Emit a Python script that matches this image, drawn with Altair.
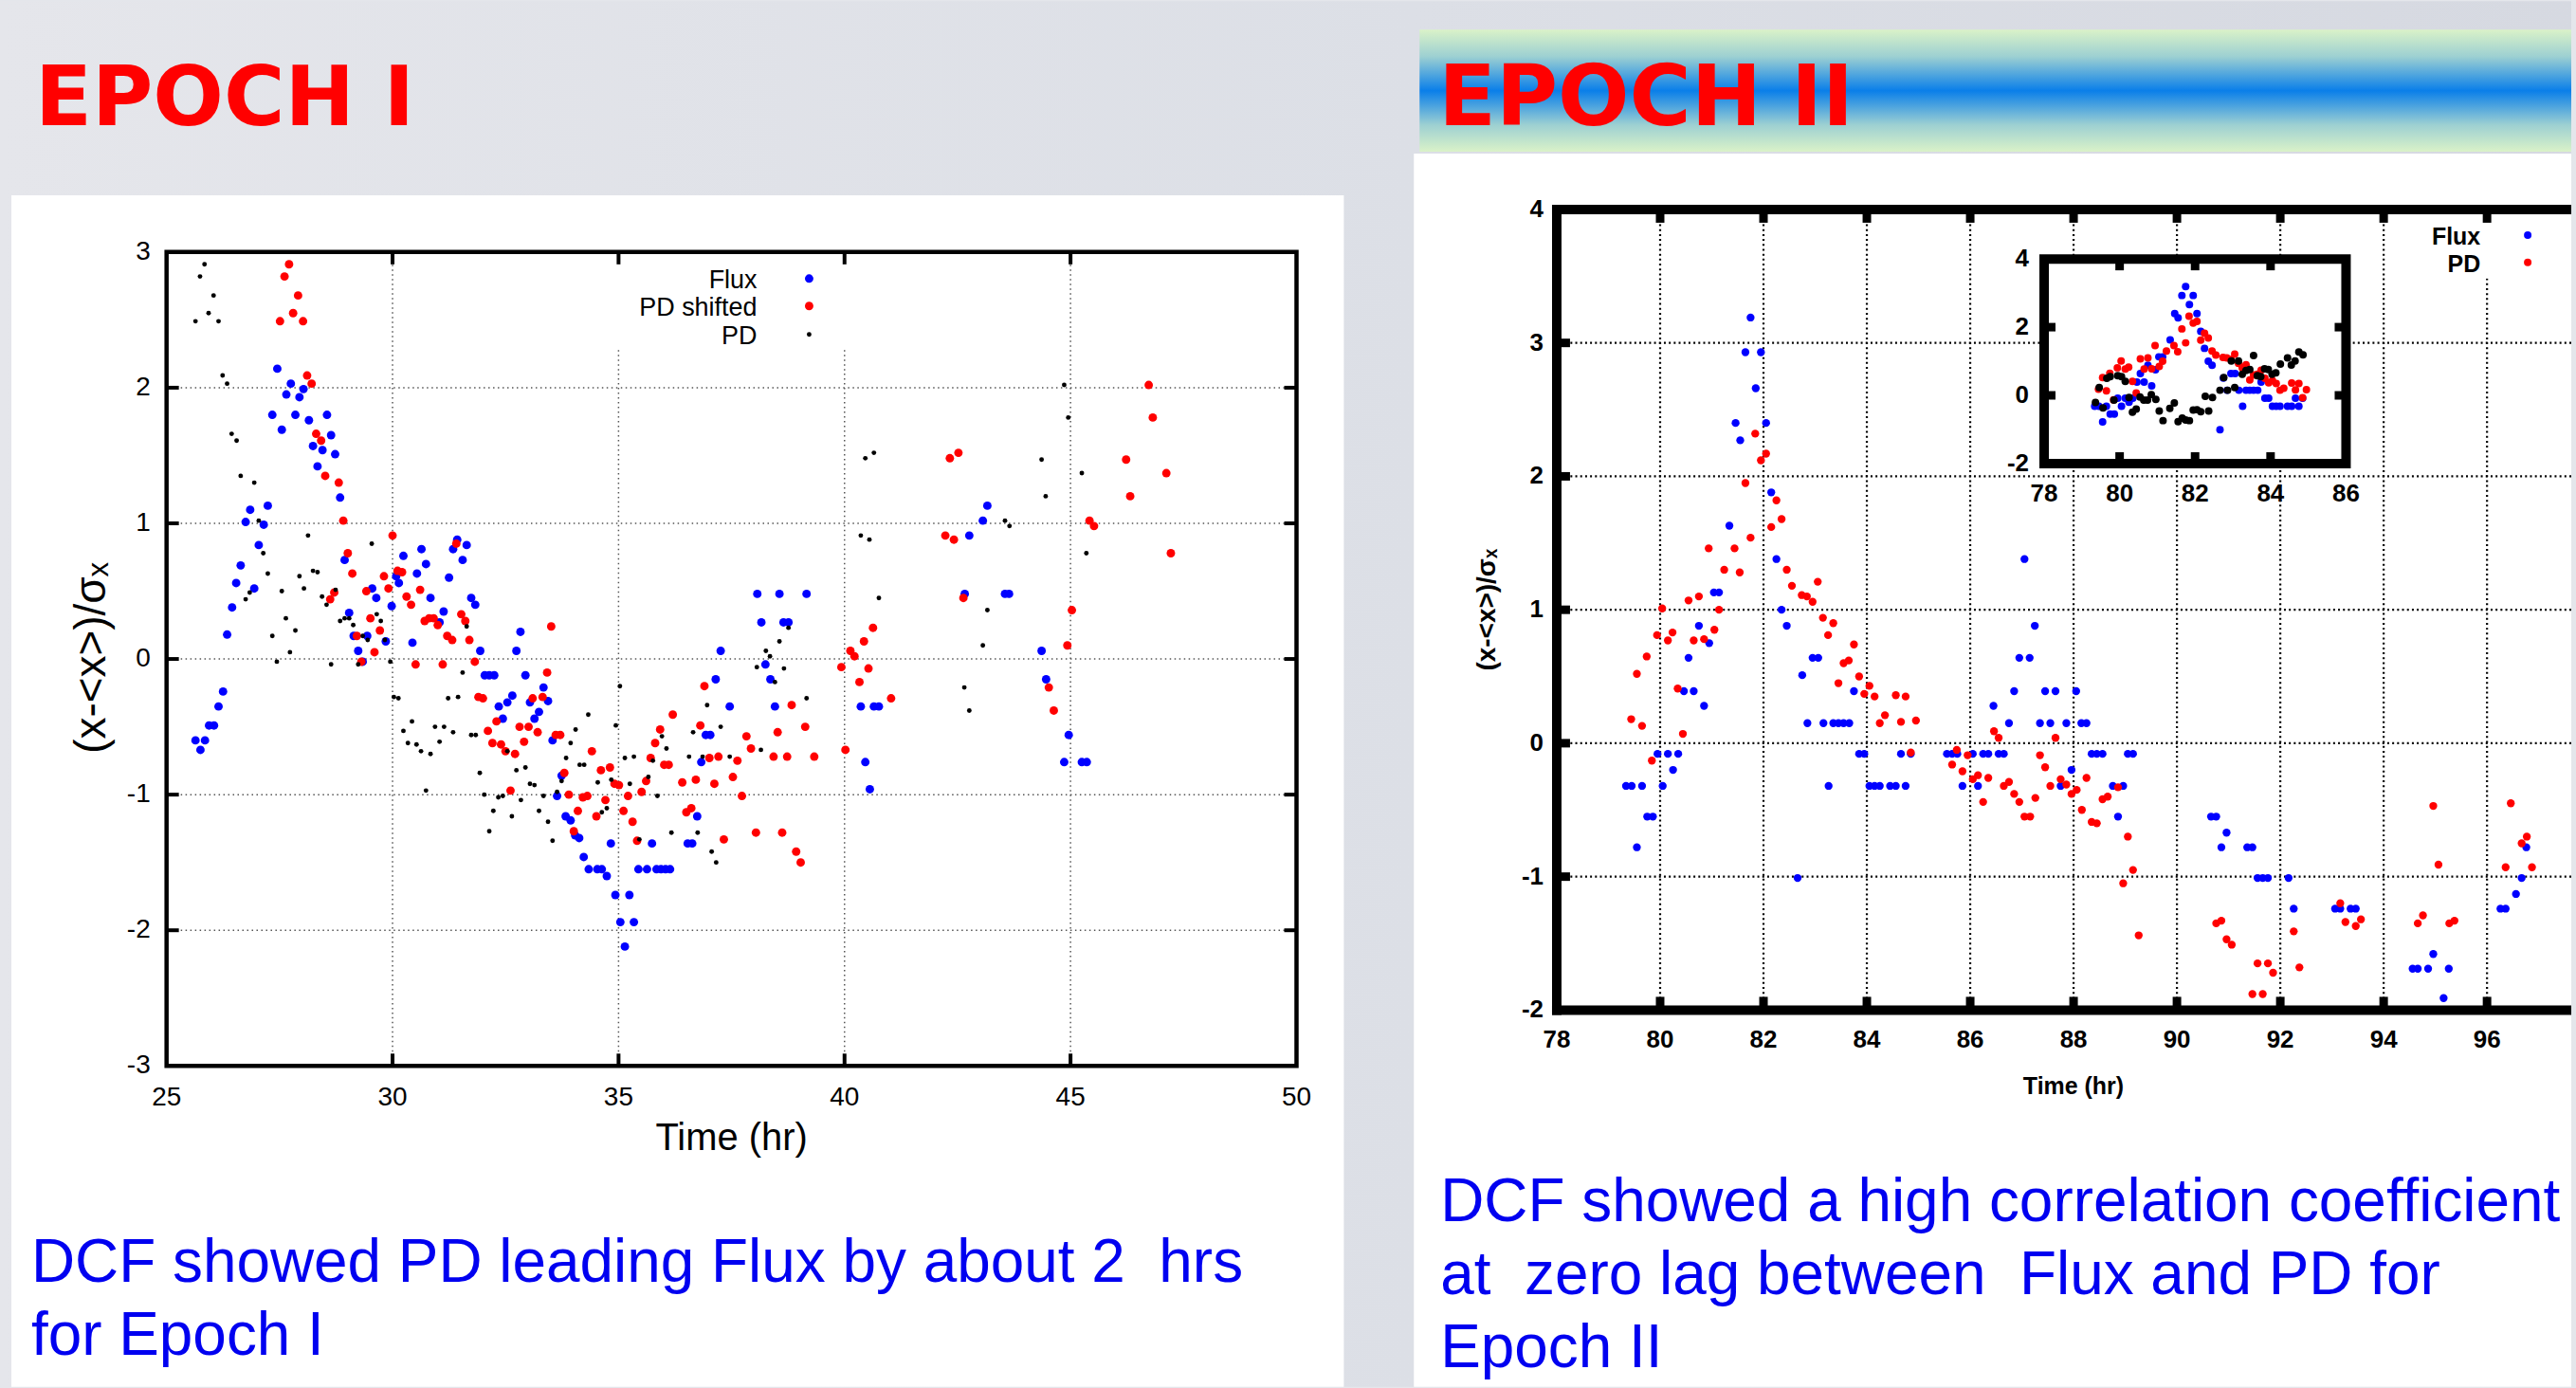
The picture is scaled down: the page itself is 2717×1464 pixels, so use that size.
import altair as alt
import pandas as pd

# ------------------------------------------------------------------
# Epoch I : normalised light curves, (x-<x>)/sigma_x against time (hr)
# ------------------------------------------------------------------
e1_flux_t = [25.64, 25.75, 25.85, 25.94, 26.05, 26.15, 26.25, 26.34, 26.45, 26.54,
             26.64, 26.75, 26.85, 26.94, 27.04, 27.15, 27.24, 27.34, 27.45, 27.55,
             27.65, 27.75, 27.85, 27.94, 28.03, 28.15, 28.24, 28.34, 28.45, 28.55,
             28.64, 28.73, 28.84, 28.94, 29.04, 29.14, 29.24, 29.34, 29.44, 29.55,
             29.64, 29.85, 29.98, 30.08, 30.14, 30.24, 30.44, 30.54, 30.64, 30.74,
             30.84, 31.04, 31.13, 31.25, 31.34, 31.43, 31.55, 31.64, 31.74, 31.83,
             31.94, 32.04, 32.14, 32.25, 32.35, 32.44, 32.54, 32.65, 32.74, 32.83,
             32.94, 33.04, 33.14, 33.24, 33.34, 33.44, 33.54, 33.64, 33.74, 33.83,
             33.94, 34.04, 34.13, 34.23, 34.34, 34.53, 34.63, 34.74, 34.83, 34.93,
             35.04, 35.14, 35.24, 35.34, 35.44, 35.63, 35.74, 35.84, 35.94, 36.04,
             36.14, 36.53, 36.63, 36.74, 36.83, 36.93, 37.03, 37.15, 37.26, 37.46,
             38.07, 38.16, 38.25, 38.36, 38.46, 38.56, 38.65, 38.76, 39.16, 40.36,
             40.46, 40.56, 40.65, 40.76, 42.66, 42.76, 43.06, 43.16, 43.55, 43.64,
             44.36, 44.46, 44.86, 44.96, 45.25, 45.36]
e1_flux_v = [-0.60, -0.67, -0.60, -0.49, -0.49, -0.35, -0.24, 0.18, 0.38, 0.56,
             0.69, 1.01, 1.10, 0.52, 0.84, 0.99, 1.13, 1.80, 2.14, 1.69,
             1.95, 2.03, 1.80, 1.93, 1.99, 1.76, 1.57, 1.42, 1.54, 1.80,
             1.65, 1.51, 1.19, 0.73, 0.34, 0.17, 0.06, -0.02, 0.17, 0.52,
             0.45, 0.13, 0.39, 0.61, 0.56, 0.76, 0.12, 0.63, 0.81, 0.70,
             0.45, 0.27, 0.35, 0.60, 0.81, 0.88, 0.73, 0.84, 0.45, 0.40,
             0.06, -0.12, -0.12, -0.12, -0.35, -0.44, -0.32, -0.27, 0.06, 0.20,
             -0.12, -0.32, -0.44, -0.39, -0.21, -0.31, -0.60, -1.01, -0.86, -1.16,
             -1.19, -1.30, -1.32, -1.46, -1.55, -1.55, -1.55, -1.60, -1.36, -1.74,
             -1.94, -2.12, -1.74, -1.94, -1.55, -1.55, -1.36, -1.55, -1.55, -1.55,
             -1.55, -1.36, -1.36, -1.16, -0.76, -0.56, -0.56, -0.15, 0.06, -0.35,
             0.48, 0.27, -0.04, -0.15, -0.35, 0.48, 0.27, 0.27, 0.48, -0.35,
             -0.76, -0.96, -0.35, -0.35, 0.48, 0.91, 1.02, 1.13, 0.48, 0.48,
             0.06, -0.15, -0.76, -0.56, -0.76, -0.76]

e1_pd_t = [25.64, 25.74, 25.84, 25.93, 26.04, 26.15, 26.24, 26.34, 26.44, 26.55,
           26.64, 26.75, 26.84, 26.94, 27.04, 27.14, 27.24, 27.34, 27.44, 27.55,
           27.64, 27.73, 27.85, 27.94, 28.04, 28.13, 28.24, 28.34, 28.44, 28.54,
           28.64, 28.74, 28.84, 28.94, 29.04, 29.13, 29.24, 29.34, 29.45, 29.54,
           29.65, 29.74, 29.83, 29.95, 30.03, 30.13, 30.24, 30.34, 30.43, 30.53,
           30.63, 30.74, 30.84, 30.94, 31.04, 31.14, 31.23, 31.34, 31.45, 31.55,
           31.64, 31.74, 31.84, 31.93, 32.03, 32.14, 32.23, 32.34, 32.44, 32.54,
           32.64, 32.74, 32.84, 32.94, 33.04, 33.14, 33.24, 33.34, 33.44, 33.54,
           33.64, 33.74, 33.84, 33.94, 34.05, 34.14, 34.24, 34.33, 34.54, 34.63,
           34.74, 34.84, 34.94, 35.03, 35.14, 35.25, 35.34, 35.46, 35.66, 35.76,
           35.86, 35.96, 36.06, 36.17, 36.56, 36.65, 36.75, 36.86, 36.96, 37.06,
           37.16, 37.26, 37.46, 38.06, 38.15, 38.26, 38.35, 38.46, 38.56, 38.66,
           38.76, 39.16, 40.36, 40.46, 40.55, 40.65, 40.76, 42.65, 42.76, 43.06,
           43.16, 43.55, 43.65, 44.36, 44.45, 44.86, 44.95, 45.25, 45.35]
e1_pd_v = [2.49, 2.82, 2.91, 2.55, 2.68, 2.49, 2.09, 2.03, 1.66, 1.61,
           1.35, 0.44, 0.49, 1.30, 1.02, 0.78, 0.63, 0.17, -0.02, 0.50,
           0.30, 0.05, 0.21, 0.61, 0.52, 0.91, 0.65, 0.64, 0.46, 0.40,
           -0.04, 0.51, 0.28, 0.30, 0.30, 0.25, -0.04, 0.17, 0.14, 0.85,
           0.33, 0.28, 0.14, -0.02, -0.28, -0.29, -0.53, -0.62, -0.46, -0.63,
           -0.68, -0.97, -0.70, -0.50, -0.61, -0.50, -0.29, -0.54, -0.28, -0.10,
           0.24, -0.56, -0.56, -0.84, -1.00, -1.27, -1.12, -1.02, -1.01, -0.68,
           -1.16, -0.82, -1.04, -0.80, -0.92, -0.93, -1.12, -1.01, -1.20, -1.34,
           -0.98, -0.90, -0.73, -0.62, -0.52, -0.78, -0.78, -0.41, -0.91, -1.13,
           -1.10, -0.89, -0.49, -0.20, -0.73, -0.92, -0.72, -1.33, -0.87, -0.75,
           -1.01, -0.57, -0.66, -1.28, -0.72, -0.54, -1.28, -0.72, -0.34, -1.42,
           -1.50, -0.50, -0.72, -0.06, -0.67, 0.06, 0.02, -0.17, 0.13, -0.07,
           0.23, -0.29, 0.91, 1.48, 0.88, 1.52, 0.45, -0.21, -0.38, 0.10,
           0.36, 1.02, 0.98, 1.47, 1.20, 2.02, 1.78, 1.37, 0.78]

# PD is drawn a second time, displaced by the lag found with the DCF
e1_pd_lag_hr = 1.87

# ------------------------------------------------------------------
# Epoch II
# ------------------------------------------------------------------
e2_flux_t = [79.34, 79.45, 79.55, 79.65, 79.75, 79.86, 79.95, 80.05, 80.15, 80.25,
             80.35, 80.46, 80.55, 80.65, 80.75, 80.85, 80.95, 81.04, 81.14, 81.34,
             81.46, 81.55, 81.65, 81.75, 81.85, 81.95, 82.05, 82.15, 82.25, 82.35,
             82.45, 82.66, 82.75, 82.85, 82.95, 83.06, 83.16, 83.26, 83.35, 83.45,
             83.55, 83.66, 83.75, 83.85, 83.95, 84.05, 84.15, 84.25, 84.45, 84.56,
             84.66, 84.75, 84.85, 85.55, 85.65, 85.75, 85.85, 86.05, 86.15, 86.25,
             86.35, 86.45, 86.55, 86.65, 86.75, 86.85, 86.95, 87.05, 87.15, 87.25,
             87.35, 87.45, 87.55, 87.65, 87.75, 87.86, 87.96, 88.05, 88.15, 88.25,
             88.35, 88.45, 88.56, 88.76, 88.86, 88.96, 89.05, 89.15, 90.66, 90.76,
             90.86, 90.96, 91.36, 91.46, 91.56, 91.66, 91.76, 92.16, 92.26, 93.06,
             93.16, 93.36, 93.46, 94.56, 94.66, 94.86, 94.96, 95.16, 95.26, 96.26,
             96.36, 96.56, 96.67, 96.76]
e2_flux_v = [-0.32, -0.32, -0.78, -0.32, -0.55, -0.55, -0.08, -0.32, -0.08, -0.20,
             -0.08, 0.39, 0.64, 0.39, 0.88, 0.28, 0.75, 1.13, 1.13, 1.63,
             2.40, 2.27, 2.93, 3.19, 2.66, 2.93, 2.40, 1.88, 1.38, 1.00,
             0.88, -1.01, 0.51, 0.15, 0.64, 0.64, 0.15, -0.32, 0.15, 0.15,
             0.15, 0.15, 0.39, -0.08, -0.08, -0.32, -0.32, -0.32, -0.32, -0.32,
             -0.08, -0.32, -0.08, -0.08, -0.08, -0.08, -0.32, -0.08, -0.32, -0.08,
             -0.08, 0.28, -0.08, -0.08, 0.15, 0.39, 0.64, 1.38, 0.64, 0.88,
             0.15, 0.39, 0.15, 0.39, -0.32, 0.15, -0.20, 0.39, 0.15, 0.15,
             -0.08, -0.08, -0.08, -0.32, -0.55, -0.32, -0.08, -0.08, -0.55, -0.55,
             -0.78, -0.67, -0.78, -0.78, -1.01, -1.01, -1.01, -1.01, -1.24, -1.24,
             -1.24, -1.24, -1.24, -1.69, -1.69, -1.69, -1.58, -1.91, -1.69, -1.24,
             -1.24, -1.13, -1.01, -0.78]

e2_pd_t = [79.44, 79.55, 79.65, 79.74, 79.84, 79.94, 80.04, 80.15, 80.24, 80.34,
           80.44, 80.55, 80.65, 80.75, 80.85, 80.94, 81.05, 81.14, 81.24, 81.44,
           81.54, 81.65, 81.75, 81.84, 81.95, 82.05, 82.15, 82.25, 82.35, 82.45,
           82.55, 82.74, 82.84, 82.95, 83.05, 83.15, 83.25, 83.35, 83.45, 83.55,
           83.65, 83.75, 83.85, 83.95, 84.05, 84.15, 84.25, 84.35, 84.56, 84.66,
           84.75, 84.85, 84.95, 85.65, 85.74, 85.85, 85.95, 86.05, 86.15, 86.25,
           86.35, 86.46, 86.55, 86.65, 86.75, 86.85, 86.95, 87.05, 87.16, 87.26,
           87.35, 87.45, 87.55, 87.65, 87.75, 87.86, 87.96, 88.06, 88.16, 88.25,
           88.35, 88.45, 88.56, 88.66, 88.86, 88.96, 89.05, 89.15, 89.26, 90.76,
           90.86, 90.96, 91.06, 91.46, 91.56, 91.66, 91.76, 91.86, 92.26, 92.37,
           93.16, 93.26, 93.46, 93.56, 94.66, 94.76, 94.96, 95.06, 95.27, 95.37,
           96.36, 96.46, 96.67, 96.77, 96.87]
e2_pd_v = [0.18, 0.52, 0.13, 0.65, -0.13, 0.81, 1.01, 0.77, 0.83, 0.41,
           0.07, 1.07, 0.77, 1.10, 0.78, 1.46, 0.85, 1.00, 1.30, 1.46,
           1.28, 1.95, 1.54, 2.32, 2.12, 2.17, 1.62, 1.82, 1.68, 1.30,
           1.18, 1.11, 1.10, 1.06, 1.21, 0.94, 0.81, 0.90, 0.45, 0.60,
           0.62, 0.74, 0.50, 0.37, 0.43, 0.35, 0.15, 0.21, 0.36, 0.16,
           0.35, -0.07, 0.17, -0.16, -0.05, -0.21, -0.09, -0.27, -0.24, -0.44,
           -0.26, 0.09, 0.04, -0.32, -0.29, -0.38, -0.44, -0.55, -0.55, -0.41,
           -0.09, -0.18, -0.32, 0.04, -0.27, -0.31, -0.38, -0.35, -0.50, -0.26,
           -0.59, -0.60, -0.42, -0.40, -0.33, -1.05, -0.70, -0.95, -1.44, -1.35,
           -1.33, -1.47, -1.51, -1.88, -1.65, -1.88, -1.65, -1.72, -1.41, -1.68,
           -1.20, -1.34, -1.37, -1.32, -1.35, -1.29, -0.47, -0.91, -1.35, -1.33,
           -0.93, -0.45, -0.75, -0.70, -0.93]

# third (black) series that only appears in the inset
e2_inset_t = [79.36, 79.46, 79.56, 79.66, 79.75, 79.85, 79.95, 80.05, 80.15, 80.25,
              80.34, 80.44, 80.54, 80.64, 80.74, 80.84, 80.96, 81.05, 81.15, 81.33,
              81.45, 81.55, 81.66, 81.75, 81.85, 81.95, 82.05, 82.15, 82.27, 82.36,
              82.46, 82.66, 82.76, 82.86, 82.96, 83.05, 83.15, 83.25, 83.35, 83.45,
              83.55, 83.65, 83.74, 83.84, 83.94, 84.04, 84.14, 84.26, 84.45, 84.55,
              84.65, 84.75, 84.86]
e2_inset_v = [-0.21, 0.23, -0.37, 0.50, 0.55, -0.14, 0.58, 0.55, 0.41, -0.06,
              -0.49, -0.40, -0.05, -0.14, -0.14, 0.02, -0.12, -0.46, -0.74, -0.38,
              -0.22, -0.77, -0.67, -0.72, -0.74, -0.43, -0.42, -0.48, -0.03, -0.46,
              -0.06, 0.15, 0.52, 0.15, 1.01, 0.23, 1.01, 0.62, 0.73, 0.76,
              1.17, 0.58, 0.55, 0.78, 0.76, 0.62, 0.66, 0.92, 1.10, 0.89,
              1.01, 1.27, 1.19]
e2_inset_until = 85

# tick values
e1_x_ticks = [25, 30, 35, 40, 45, 50]
e1_y_ticks = [-3, -2, -1, 0, 1, 2, 3]
e1_x_inner = [30, 35, 40, 45]
e1_y_inner = [-2, -1, 0, 1, 2]
e2_x_ticks = [78, 80, 82, 84, 86, 88, 90, 92, 94, 96]
e2_y_ticks = [-2, -1, 0, 1, 2, 3, 4]
e2_x_inner = [80, 82, 84, 86, 88, 90, 92, 94, 96]
e2_y_inner = [-1, 0, 1, 2, 3]
inset_x_ticks = [78, 80, 82, 84, 86]
inset_y_ticks = [-2, 0, 2, 4]
inset_x_inner = [80, 82, 84]
inset_y_inner = [0, 2]

# ------------------------------------------------------------------
LS = "Liberation Sans, Arial, Helvetica, sans-serif"
DV = "DejaVu Sans, Verdana, sans-serif"
BLUE, RED, BLACK = "#0000ff", "#ff0000", "#000000"
TEXT_BLUE = "#0000f0"
NB = "\u00a0"

one = pd.DataFrame({"k": [0]})


def px_rect(x, x2, y, y2, **mark):
    return alt.Chart(one).mark_rect(**mark).encode(
        x=alt.value(x), x2=alt.value(x2), y=alt.value(y), y2=alt.value(y2))


def px_text(text, x, y, **mark):
    return alt.Chart(one).mark_text(text=text, **mark).encode(
        x=alt.value(x), y=alt.value(y))


def px_dot(x, y, color, size):
    return alt.Chart(one).mark_circle(color=color, size=size, opacity=1).encode(
        x=alt.value(x), y=alt.value(y))


def vals(v):
    return pd.DataFrame({"g": v})


def tick_text(v, **mark):
    # numeric tick labels, written with a plain hyphen for negatives
    return alt.Chart(vals(v)).transform_calculate(lbl="'' + datum.g").mark_text(**mark)


# ======================= Epoch I panel ============================
W1, H1, TOP1 = 1194, 905, 45
sx1 = alt.Scale(domain=[25, 50], nice=False, zero=False)
sy1 = alt.Scale(domain=[-3, 3], nice=False, zero=False, range=[H1, TOP1])


def x1(field):
    return alt.X(field, type="quantitative", scale=sx1, axis=None)


def y1(field):
    return alt.Y(field, type="quantitative", scale=sy1, axis=None)


e1_flux = pd.DataFrame({"t": e1_flux_t, "v": e1_flux_v})
e1_pd = pd.DataFrame({"t": e1_pd_t, "v": e1_pd_v})

slide_bg = px_rect(-176, 2541, -220, 1244, color=alt.LinearGradient(
    gradient="linear", x1=0, x2=1, y1=0, y2=0,
    stops=[alt.GradientStop(offset=0, color="#e5e6eb"),
           alt.GradientStop(offset=0.55, color="#dcdfe6"),
           alt.GradientStop(offset=1, color="#d6d9e1")]))
panel1 = px_rect(-164, 1244, -15, 1244, color="white")
title1 = px_text("EPOCH I", -139, -89, font=DV, fontSize=88, fontWeight="bold",
                 color=RED, align="left", baseline="alphabetic")
cap1 = [px_text(s, -143, yy, font=LS, fontSize=64, color=TEXT_BLUE,
                align="left", baseline="alphabetic")
        for s, yy in [(f"DCF showed PD leading Flux by about 2 {NB}hrs", 1133),
                      ("for Epoch I", 1210)]]

grid_style1 = dict(color="#555555", strokeWidth=1.5, strokeDash=[1.5, 3.5])
grid1x = alt.Chart(vals(e1_x_inner)).mark_rule(**grid_style1).encode(
    x=x1("g"), y=alt.YDatum(-3, scale=sy1, axis=None), y2=alt.Y2Datum(3))
grid1y = alt.Chart(vals(e1_y_inner)).mark_rule(**grid_style1).encode(
    y=y1("g"), x=alt.XDatum(25, scale=sx1, axis=None), x2=alt.X2Datum(50))
key_box1 = px_rect(250, 905, TOP1 + 4, 146, color="white")

dots1_flux = alt.Chart(e1_flux).mark_circle(color=BLUE, size=80, opacity=1).encode(
    x=x1("t"), y=y1("v"))
dots1_shift = alt.Chart(e1_pd).transform_calculate(
    ts=f"datum.t + {e1_pd_lag_hr}").mark_circle(color=RED, size=80, opacity=1).encode(
    x=x1("ts"), y=y1("v"))
dots1_pd = alt.Chart(e1_pd).mark_circle(color=BLACK, size=24, opacity=1).encode(
    x=x1("t"), y=y1("v"))

frame1 = alt.Chart(one).mark_rect(fillOpacity=0, stroke=BLACK, strokeWidth=4.5).encode(
    x=alt.XDatum(25, scale=sx1, axis=None), x2=alt.X2Datum(50),
    y=alt.YDatum(-3, scale=sy1, axis=None), y2=alt.Y2Datum(3))
tk1 = dict(color=BLACK, strokeWidth=4)
ticks1 = [
    alt.Chart(vals(e1_x_inner)).mark_rule(**tk1).encode(
        x=x1("g"), y=alt.value(H1), y2=alt.value(H1 - 13)),
    alt.Chart(vals(e1_x_inner)).mark_rule(**tk1).encode(
        x=x1("g"), y=alt.value(TOP1), y2=alt.value(TOP1 + 13)),
    alt.Chart(vals(e1_y_inner)).mark_rule(**tk1).encode(
        y=y1("g"), x=alt.value(0), x2=alt.value(13)),
    alt.Chart(vals(e1_y_inner)).mark_rule(**tk1).encode(
        y=y1("g"), x=alt.value(W1 - 13), x2=alt.value(W1)),
]
labels1 = [
    tick_text(e1_x_ticks, font=LS, fontSize=28, align="center",
              baseline="alphabetic").encode(x=x1("g"), y=alt.value(H1 + 42),
                                            text="lbl:N"),
    tick_text(e1_y_ticks, font=LS, fontSize=28, align="right",
              baseline="middle").encode(y=y1("g"), x=alt.value(-17), text="lbl:N"),
]
key1 = [
    px_text("Flux", 624, 83, font=LS, fontSize=27, align="right", baseline="alphabetic"),
    px_text("PD shifted", 624, 112, font=LS, fontSize=27, align="right", baseline="alphabetic"),
    px_text("PD", 624, 142, font=LS, fontSize=27, align="right", baseline="alphabetic"),
    px_dot(679, 73, BLUE, 80), px_dot(679, 102, RED, 80), px_dot(679, 132, BLACK, 24),
]
xtitle1 = px_text("Time (hr)", 597, 994, font=LS, fontSize=40, align="center",
                  baseline="alphabetic")
ytitle1 = px_text("(x-<x>)/σₓ", -79, 474, font=LS, fontSize=46, align="center",
                  baseline="middle", angle=270)

left = alt.layer(slide_bg, panel1, title1, *cap1, grid1x, grid1y, key_box1,
                 dots1_flux, dots1_shift, dots1_pd, frame1, *ticks1, *labels1,
                 *key1, xtitle1, ytitle1).properties(width=W1, height=H1)

# ======================= Epoch II panel ===========================
W2, H2 = 1072, 846
sx2 = alt.Scale(domain=[78, 97.63], nice=False, zero=False)
sy2 = alt.Scale(domain=[-2, 4], nice=False, zero=False)


def x2(field):
    return alt.X(field, type="quantitative", scale=sx2, axis=None)


def y2(field):
    return alt.Y(field, type="quantitative", scale=sy2, axis=None)


e2_flux = pd.DataFrame({"t": e2_flux_t, "v": e2_flux_v})
e2_pd = pd.DataFrame({"t": e2_pd_t, "v": e2_pd_v})
e2_extra = pd.DataFrame({"t": e2_inset_t, "v": e2_inset_v})

panel2 = px_rect(-151, W2, -59, 1244, color="white")
banner = px_rect(-145, W2, -190, -61, color=alt.LinearGradient(
    gradient="linear", x1=0, x2=0, y1=0, y2=1,
    stops=[alt.GradientStop(offset=0, color="#daf2c8"),
           alt.GradientStop(offset=0.22, color="#9dd0d2"),
           alt.GradientStop(offset=0.5, color="#0a7fe9"),
           alt.GradientStop(offset=0.78, color="#9dd0d2"),
           alt.GradientStop(offset=1, color="#daf2c8")]))
title2 = px_text("EPOCH II", -125, -89, font=DV, fontSize=89, fontWeight="bold",
                 color=RED, align="left", baseline="alphabetic")
cap2 = [px_text(s, -123, yy, font=LS, fontSize=64, color=TEXT_BLUE,
                align="left", baseline="alphabetic")
        for s, yy in [("DCF showed a high correlation coefficient", 1069),
                      (f"at {NB}zero lag between {NB}Flux and PD for", 1146),
                      ("Epoch II", 1223)]]

grid_style2 = dict(color=BLACK, strokeWidth=2.2, strokeDash=[2, 3.2])
grid2x = alt.Chart(vals(e2_x_inner)).mark_rule(**grid_style2).encode(x=x2("g"))
grid2y = alt.Chart(vals(e2_y_inner)).mark_rule(**grid_style2).encode(y=y2("g"))
key_box2 = px_rect(890, W2, 6, 73, color="white")

dots2_flux = alt.Chart(e2_flux).mark_circle(color=BLUE, size=70, opacity=1).encode(
    x=x2("t"), y=y2("v"))
dots2_pd = alt.Chart(e2_pd).mark_circle(color=RED, size=70, opacity=1).encode(
    x=x2("t"), y=y2("v"))

border2 = [
    alt.Chart(one).mark_rule(color=BLACK, strokeWidth=10).encode(
        x=alt.value(-5), x2=alt.value(W2), y=alt.value(0)),
    alt.Chart(one).mark_rule(color=BLACK, strokeWidth=10).encode(
        x=alt.value(-5), x2=alt.value(W2), y=alt.value(H2)),
    alt.Chart(one).mark_rule(color=BLACK, strokeWidth=10).encode(
        x=alt.value(0), y=alt.value(-5), y2=alt.value(H2 + 5)),
]
tk2 = dict(color=BLACK, strokeWidth=9)
ticks2 = [
    alt.Chart(vals(e2_x_inner)).mark_rule(**tk2).encode(
        x=x2("g"), y=alt.value(H2), y2=alt.value(H2 - 14)),
    alt.Chart(vals(e2_x_inner)).mark_rule(**tk2).encode(
        x=x2("g"), y=alt.value(0), y2=alt.value(14)),
    alt.Chart(vals(e2_y_inner)).mark_rule(**tk2).encode(
        y=y2("g"), x=alt.value(0), x2=alt.value(14)),
]
lab2 = dict(font=LS, fontSize=26, fontWeight="bold")
labels2 = [
    tick_text(e2_x_ticks, align="center", baseline="alphabetic", **lab2).encode(
        x=x2("g"), y=alt.value(H2 + 40), text="lbl:N"),
    tick_text(e2_y_ticks, align="right", baseline="middle", **lab2).encode(
        y=y2("g"), x=alt.value(-14), text="lbl:N"),
]
key2 = [
    px_text("Flux", 976, 37, font=LS, fontSize=25, fontWeight="bold",
            align="right", baseline="alphabetic"),
    px_text("PD", 976, 66, font=LS, fontSize=25, fontWeight="bold",
            align="right", baseline="alphabetic"),
    px_dot(1026, 27, BLUE, 64), px_dot(1026, 56, RED, 64),
]
xtitle2 = px_text("Time (hr)", 546, 935, font=LS, fontSize=25, fontWeight="bold",
                  align="center", baseline="alphabetic")
ytitle2 = px_text("(x-<x>)/σₓ", -73, 423, font=LS, fontSize=28, fontWeight="bold",
                  align="center", baseline="middle", angle=270)

main2 = alt.layer(panel2, banner, title2, *cap2, grid2x, grid2y, key_box2,
                  dots2_flux, dots2_pd, *border2, *ticks2, *labels2, *key2,
                  xtitle2, ytitle2)

# ---- inset: zoom on the flare, own scales placed inside the main frame ----
sxi = alt.Scale(domain=[78, 86], range=[515, 834], nice=False, zero=False)
syi = alt.Scale(domain=[-2, 4], range=[268.5, 52.3], nice=False, zero=False)


def xi(field):
    return alt.X(field, type="quantitative", scale=sxi, axis=None)


def yi(field):
    return alt.Y(field, type="quantitative", scale=syi, axis=None)


inset_box = dict(x=alt.XDatum(78, scale=sxi, axis=None), x2=alt.X2Datum(86),
                 y=alt.YDatum(-2, scale=syi, axis=None), y2=alt.Y2Datum(4))
inset_bg = alt.Chart(one).mark_rect(color="white").encode(**inset_box)
inset_sel = f"datum.t <= {e2_inset_until}"
inset_flux = alt.Chart(e2_flux).transform_filter(inset_sel).mark_circle(
    color=BLUE, size=64, opacity=1).encode(x=xi("t"), y=yi("v"))
inset_pd = alt.Chart(e2_pd).transform_filter(inset_sel).mark_circle(
    color=RED, size=64, opacity=1).encode(x=xi("t"), y=yi("v"))
inset_extra = alt.Chart(e2_extra).mark_circle(
    color=BLACK, size=64, opacity=1).encode(x=xi("t"), y=yi("v"))
inset_frame = alt.Chart(one).mark_rect(fillOpacity=0, stroke=BLACK,
                                       strokeWidth=10).encode(**inset_box)
inset_ticks = [
    alt.Chart(vals(inset_x_inner)).mark_rule(**tk2).encode(
        x=xi("g"), y=alt.value(52.3), y2=alt.value(64.3)),
    alt.Chart(vals(inset_x_inner)).mark_rule(**tk2).encode(
        x=xi("g"), y=alt.value(268.5), y2=alt.value(256.5)),
    alt.Chart(vals(inset_y_inner)).mark_rule(**tk2).encode(
        y=yi("g"), x=alt.value(515), x2=alt.value(527)),
    alt.Chart(vals(inset_y_inner)).mark_rule(**tk2).encode(
        y=yi("g"), x=alt.value(834), x2=alt.value(822)),
]
inset_labels = [
    tick_text(inset_x_ticks, align="center", baseline="alphabetic", **lab2).encode(
        x=xi("g"), y=alt.value(309), text="lbl:N"),
    tick_text(inset_y_ticks, align="right", baseline="middle", **lab2).encode(
        y=yi("g"), x=alt.value(499), text="lbl:N"),
]
inset = alt.layer(inset_bg, inset_flux, inset_pd, inset_extra, inset_frame,
                  *inset_ticks, *inset_labels)

right = alt.layer(main2, inset).resolve_scale(
    x="independent", y="independent").properties(width=W2, height=H2)

chart = alt.hconcat(left, right, spacing=275, bounds="flush").properties(
    background="#e4e6eb", padding=0).configure_view(strokeWidth=0)

chart.save("out.html", embed_options={"renderer": "svg", "actions": False})
